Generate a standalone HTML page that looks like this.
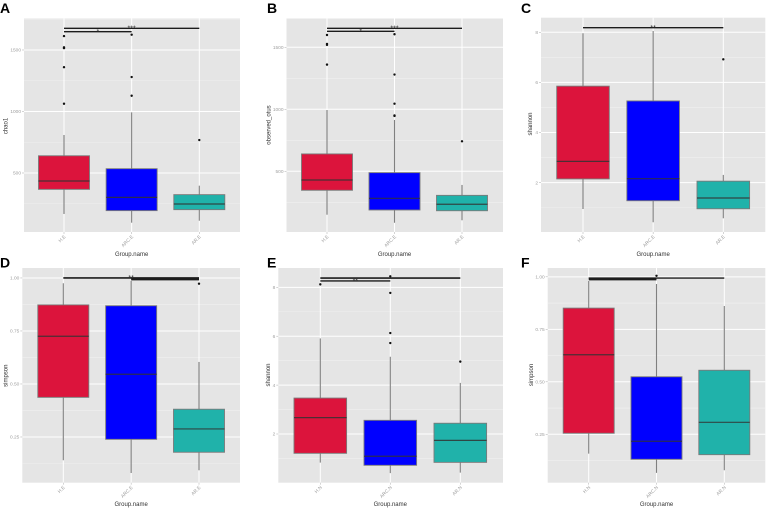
<!DOCTYPE html>
<html lang="en">
<head>
<meta charset="utf-8">
<title>Alpha diversity boxplots</title>
<style>
html,body{margin:0;padding:0;background:#fff;width:768px;height:510px;overflow:hidden}
svg{display:block;font-family:"Liberation Sans",sans-serif;filter:blur(0.3px)}
</style>
</head>
<body>
<svg id="figure" width="768" height="510" viewBox="0 0 768 510" xmlns="http://www.w3.org/2000/svg"></svg>
<script>
// ---- Data ----
const categoriesE = ["H.E", "ARC.E", "AR.E"];
const categoriesN = ["H.N", "ARC.N", "AR.N"];

const ticksA = [500, 1000, 1500];
const tickLabelsA = ["500", "1000", "1500"];
const boxesA = [[167, 367, 435, 640, 809], [96, 194, 302, 535, 993], [112, 202, 248, 324, 397]];
const outliersA = [[1613, 1522, 1515, 1360, 1063], [1624, 1280, 1128], [768]];
const sigValuesA = [1676, 1649];
const sigFromA = [0, 0];
const sigToA = [2, 1];
const sigLabelsA = ["***", "*"];

const ticksB = [500, 1000, 1500];
const tickLabelsB = ["500", "1000", "1500"];
const boxesB = [[150, 347, 430, 640, 994], [85, 188, 282, 489, 914], [105, 182, 234, 306, 390]];
const outliersB = [[1599, 1527, 1519, 1360], [1605, 1280, 1045, 950, 946], [742]];
const sigValuesB = [1653, 1629];
const sigFromB = [0, 0];
const sigToB = [2, 1];
const sigLabelsB = ["***", "*"];

const ticksC = [2, 4, 6, 8];
const tickLabelsC = ["2", "4", "6", "8"];
const boxesC = [[0.95, 2.15, 2.85, 5.85, 7.96], [0.42, 1.28, 2.16, 5.26, 8.05], [0.58, 0.96, 1.39, 2.06, 2.31]];
const outliersC = [[], [], [6.92]];
const sigValuesC = [8.18];
const sigFromC = [0];
const sigToC = [2];
const sigLabelsC = ["**"];

const ticksD = [0.25, 0.5, 0.75, 1];
const tickLabelsD = ["0.25", "0.50", "0.75", "1.00"];
const boxesD = [[0.14, 0.437, 0.725, 0.873, 0.975], [0.08, 0.239, 0.546, 0.869, 0.986], [0.093, 0.178, 0.288, 0.381, 0.604]];
const outliersD = [[], [], [0.973]];
const sigValuesD = [1.0, 0.995];
const sigFromD = [0, 1];
const sigToD = [2, 2];
const sigLabelsD = ["**", ""];

const ticksE = [2, 4, 6, 8];
const tickLabelsE = ["2", "4", "6", "8"];
const boxesE = [[0.83, 1.21, 2.67, 3.47, 5.91], [0.4, 0.72, 1.09, 2.56, 5.16], [0.42, 0.84, 1.74, 2.44, 4.09]];
const outliersE = [[8.12], [8.45, 7.77, 6.13, 5.72], [4.96]];
const sigValuesE = [8.38, 8.26];
const sigFromE = [0, 0];
const sigToE = [2, 1];
const sigLabelsE = ["", "**"];

const ticksF = [0.25, 0.5, 0.75, 1];
const tickLabelsF = ["0.25", "0.50", "0.75", "1.00"];
const boxesF = [[0.158, 0.255, 0.629, 0.851, 0.98], [0.066, 0.131, 0.217, 0.524, 0.966], [0.079, 0.153, 0.307, 0.555, 0.861]];
const outliersF = [[], [1.005], []];
const sigValuesF = [0.994, 0.99];
const sigFromF = [0, 0];
const sigToF = [2, 1];
const sigLabelsF = ["", ""];

// ---- Layout ----
const fills = ["#dc143c", "#0000ff", "#20b2aa"];
const panels = [
  {id:"a", letter:"A", letterX:0, letterY:13, title:"chao1", titleX:5.7, titleY:126, left:24, right:240, top:18.5, bottom:232, dMin:20.3, dMax:1756, c0:64, cStep:67.65, half:25.5, xLabelY:256, cats:categoriesE, ticks:ticksA, tickLabels:tickLabelsA, boxes:boxesA, outliers:outliersA, sigV:sigValuesA, sigF:sigFromA, sigT:sigToA, sigL:sigLabelsA, sigW:[1.4,1.4]},
  {id:"b", letter:"B", letterX:267, letterY:13, title:"observed_otus", titleX:268.3, titleY:125, left:286.5, right:503, top:18.5, bottom:232, dMin:10.5, dMax:1732, c0:327, cStep:67.5, half:25.5, xLabelY:256, cats:categoriesE, ticks:ticksB, tickLabels:tickLabelsB, boxes:boxesB, outliers:outliersB, sigV:sigValuesB, sigF:sigFromB, sigT:sigToB, sigL:sigLabelsB, sigW:[1.4,1.4]},
  {id:"c", letter:"C", letterX:521, letterY:13, title:"shannon", titleX:530, titleY:124, left:541, right:765.3, top:17.7, bottom:232, dMin:0.033, dMax:8.58, c0:583, cStep:70.15, half:26.3, xLabelY:256, cats:categoriesE, ticks:ticksC, tickLabels:tickLabelsC, boxes:boxesC, outliers:outliersC, sigV:sigValuesC, sigF:sigFromC, sigT:sigToC, sigL:sigLabelsC, sigW:[1.4]},
  {id:"d", letter:"D", letterX:0, letterY:267.5, title:"simpson", titleX:5.7, titleY:375.7, left:22.3, right:240, top:268, bottom:482.7, dMin:0.0344, dMax:1.047, c0:63.3, cStep:67.85, half:25.5, xLabelY:506, cats:categoriesE, ticks:ticksD, tickLabels:tickLabelsD, boxes:boxesD, outliers:outliersD, sigV:sigValuesD, sigF:sigFromD, sigT:sigToD, sigL:sigLabelsD, sigW:[1.6,2.8]},
  {id:"e", letter:"E", letterX:267, letterY:267.5, title:"shannon", titleX:268, titleY:375, left:278.3, right:503, top:268, bottom:482.7, dMin:0.008, dMax:8.79, c0:320.3, cStep:70, half:26.3, xLabelY:506, cats:categoriesN, ticks:ticksE, tickLabels:tickLabelsE, boxes:boxesE, outliers:outliersE, sigV:sigValuesE, sigF:sigFromE, sigT:sigToE, sigL:sigLabelsE, sigW:[1.6,1.4]},
  {id:"f", letter:"F", letterX:521, letterY:267.5, title:"simpson", titleX:531, titleY:375, left:547.7, right:765.3, top:268, bottom:482.7, dMin:0.0195, dMax:1.042, c0:588.7, cStep:67.8, half:25.5, xLabelY:506, cats:categoriesN, ticks:ticksF, tickLabels:tickLabelsF, boxes:boxesF, outliers:outliersF, sigV:sigValuesF, sigF:sigFromF, sigT:sigToF, sigL:sigLabelsF, sigW:[1.4,2.8]}
];

const svg = document.getElementById("figure");
function make(tag, props, parent, text) {
  const el = document.createElementNS("http://www.w3.org/2000/svg", tag);
  for (const k in props) el.setAttribute(k, props[k]);
  if (text !== undefined) el.textContent = text;
  parent.appendChild(el);
  return el;
}

panels.forEach(function (p) {
  const yScale = function (v) { return p.bottom - (v - p.dMin) / (p.dMax - p.dMin) * (p.bottom - p.top); };
  const xScale = function (i) { return p.c0 + i * p.cStep; };

  const g = make("g", {}, svg);
  
  

  const letter = make("text", {x:p.letterX, y:p.letterY, "font-size":14, "font-weight":"bold", fill:"#000"}, g, p.letter);
  
  

  const bg = make("rect", {x:p.left, y:p.top, width:p.right - p.left, height:p.bottom - p.top, fill:"#e5e5e5"}, g);
  
  

  // minor horizontal grid
  const step = p.ticks[1] - p.ticks[0];
  for (let k = -3; k < p.ticks.length + 3; k++) {
    const mv = p.ticks[0] + (k + 0.5) * step;
    if (mv > p.dMin && mv < p.dMax) {
      const minor = make("line", {x1:p.left, x2:p.right, y1:yScale(mv), y2:yScale(mv), stroke:"#f0f0f0", "stroke-width":0.6}, g);
      
      
    }
  }

  // major horizontal grid, ticks and labels
  p.ticks.forEach(function (t, i) {
    const y = yScale(t);
    const grid = make("line", {x1:p.left, x2:p.right, y1:y, y2:y, stroke:"#fff", "stroke-width":1}, g);
    
    
    const tick = make("line", {x1:p.left - 2, x2:p.left, y1:y, y2:y, stroke:"#aaa", "stroke-width":0.5}, g);
    
    
    const label = make("text", {x:p.left - 3, y:y + 1.7, "font-size":4.8, "text-anchor":"end", fill:"#a0a0a0"}, g, p.tickLabels[i]);
    
    
  });

  // vertical grid, x ticks and labels
  p.cats.forEach(function (c, i) {
    const x = xScale(i);
    const grid = make("line", {x1:x, x2:x, y1:p.top, y2:p.bottom, stroke:"#fff", "stroke-width":1}, g);
    
    
    const tick = make("line", {x1:x, x2:x, y1:p.bottom, y2:p.bottom + 2, stroke:"#aaa", "stroke-width":0.5}, g);
    
    
    const lx = x + 2;
    const ly = p.bottom + 5;
    const label = make("text", {x:lx, y:ly, "font-size":4.8, "text-anchor":"end", fill:"#a0a0a0", transform:"rotate(-45 " + lx + " " + ly + ")"}, g, c);
    
    
  });

  // boxes
  p.boxes.forEach(function (b, i) {
    const x = xScale(i);
    const whisker = make("line", {x1:x, x2:x, y1:yScale(b[0]), y2:yScale(b[4]), stroke:"#808080", "stroke-width":1.1}, g);
    
    
    const box = make("rect", {x:x - p.half, y:yScale(b[3]), width:p.half * 2, height:yScale(b[1]) - yScale(b[3]), fill:fills[i], stroke:"#7a7a7a", "stroke-width":0.9}, g);
    
    
    const median = make("line", {x1:x - p.half, x2:x + p.half, y1:yScale(b[2]), y2:yScale(b[2]), stroke:"#333", "stroke-opacity":0.85, "stroke-width":1.2}, g);
    
    
    p.outliers[i].forEach(function (o) {
      const dot = make("circle", {cx:x, cy:yScale(o), r:1.2, fill:"#111"}, g);
      
      
    });
  });

  // significance bars
  p.sigV.forEach(function (v, i) {
    const x1 = xScale(p.sigF[i]);
    const x2 = xScale(p.sigT[i]);
    const y = yScale(v);
    const bar = make("line", {x1:x1, x2:x2, y1:y, y2:y, stroke:"#1c1c1c", "stroke-width":p.sigW[i]}, g);
    
    
    if (p.sigL[i]) {
      const star = make("text", {x:(x1 + x2) / 2, y:y + 2.2, "font-size":7, "text-anchor":"middle", fill:"#333"}, g, p.sigL[i]);
      
      
    }
  });

  // axis titles
  const xt = make("text", {x:xScale(1), y:p.xLabelY, "font-size":6, "text-anchor":"middle", fill:"#333"}, g, "Group.name");
  
  
  const yt = make("text", {x:p.titleX + 2, y:p.titleY, "font-size":6, "text-anchor":"middle", fill:"#333", transform:"rotate(-90 " + (p.titleX + 2) + " " + p.titleY + ")"}, g, p.title);
  
  
});
</script>
</body>
</html>
